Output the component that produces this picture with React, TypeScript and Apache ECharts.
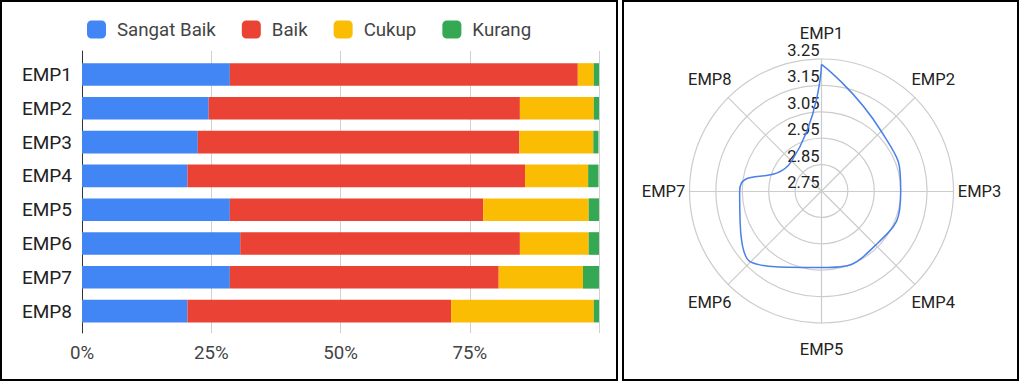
import React, { useEffect, useRef } from "react";
import * as echarts from "echarts";

const categories = ["EMP1", "EMP2", "EMP3", "EMP4", "EMP5", "EMP6", "EMP7", "EMP8"];
const seriesNames = ["Sangat Baik", "Baik", "Cukup", "Kurang"];
const sangatBaik = [28.6, 24.5, 22.4, 20.4, 28.6, 30.6, 28.6, 20.4];
const baik = [67.3, 60.2, 62.2, 65.3, 49.0, 54.1, 52.0, 51.0];
const cukup = [3.1, 14.3, 14.3, 12.2, 20.4, 13.3, 16.3, 27.6];
const kurang = [1.0, 1.0, 1.0, 2.0, 2.0, 2.0, 3.1, 1.0];
const colors = ["#4285F4", "#EA4335", "#FBBC04", "#34A853"];
const xTicks = [0, 25, 50, 75, 100];

const radarValues = [3.23, 3.07, 3.05, 3.04, 3.04, 3.13, 3.06, 2.91];
const radarMin = 2.75;
const radarMax = 3.25;

const FONT = "Roboto";

export default function App() {
  const ref = useRef<HTMLDivElement>(null);
  useEffect(() => {
    document.body.style.margin = "0";
    const chart = echarts.init(ref.current!, null, { renderer: "svg" });
    const values = [sangatBaik, baik, cukup, kurang];
    const n = categories.length;
    // radar goes counter-clockwise; reorder so labels run clockwise
    const radarOrder = [0, ...Array.from({ length: n - 1 }, (_, k) => n - 1 - k)];
    const indicators = radarOrder.map((idx, j) => {
      const ind: any = { name: categories[idx], min: radarMin, max: radarMax };
      if (j === 0) {
        ind.axisLabel = {
          show: true,
          fontSize: 16.5,
          fontFamily: FONT,
          color: "#222",
          verticalAlign: "bottom",
          margin: 2,
          formatter: (v: number) => Number(v).toFixed(2),
        };
      }
      return ind;
    });
    const linePoints = radarValues.map((v, i) => [v, i]);
    linePoints.push([radarValues[0], n]);

    chart.setOption({
      animation: false,
      legend: {
        data: seriesNames,
        left: 87,
        top: 20,
        padding: 0,
        itemWidth: 19,
        itemHeight: 18,
        itemGap: 26,
        icon: "roundRect",
        selectedMode: false,
        textStyle: { fontSize: 18.7, color: "#444", fontFamily: FONT, padding: [0, 0, 0, 6] },
      },
      grid: [
        { left: 82, top: 51, width: 517, height: 282 },
        { left: 82, top: 57.6, width: 517, height: 270.4 },
      ],
      xAxis: [
        {
          gridIndex: 0,
          type: "value",
          min: 0,
          max: 100,
          interval: 25,
          axisLine: { show: false },
          axisTick: { show: false },
          splitLine: { show: true, lineStyle: { color: "#d0d0d0", width: 1 } },
          axisLabel: {
            margin: 10,
            fontSize: 18.7,
            fontFamily: FONT,
            color: "#444",
            formatter: (v: number) => (v === xTicks[xTicks.length - 1] ? "" : v + "%"),
          },
        },
        {
          gridIndex: 1,
          type: "value",
          min: 0,
          max: 100,
          show: false,
        },
      ],
      yAxis: [
        {
          gridIndex: 0,
          type: "category",
          data: categories,
          inverse: true,
          axisLine: { show: true, lineStyle: { color: "#333", width: 1 } },
          axisTick: { show: false },
          axisLabel: { show: false },
          splitLine: { show: false },
        },
        {
          gridIndex: 1,
          type: "category",
          data: categories,
          inverse: true,
          axisLine: { show: false },
          axisTick: { show: false },
          axisLabel: { margin: 10, fontSize: 19, fontFamily: FONT, color: "#222" },
        },
      ],
      radar: {
        center: [821.5, 191],
        radius: 132,
        startAngle: 90,
        shape: "circle",
        splitNumber: 5,
        indicator: indicators,
        axisName: {
          color: "#222",
          fontSize: 16.5,
          fontFamily: FONT,
          align: "center",
          verticalAlign: "middle",
        },
        axisNameGap: 26,
        splitLine: { lineStyle: { color: "#cccccc", width: 1.2 } },
        splitArea: { show: false },
        axisLine: { lineStyle: { color: "#cccccc", width: 1.2 } },
        axisTick: { show: false },
        axisLabel: { show: false },
      },
      polar: { center: [821.5, 191], radius: 132 },
      angleAxis: {
        type: "value",
        min: 0,
        max: n,
        startAngle: 90,
        clockwise: true,
        axisLine: { show: false },
        axisTick: { show: false },
        axisLabel: { show: false },
        splitLine: { show: false },
        splitArea: { show: false },
      },
      radiusAxis: {
        type: "value",
        min: radarMin,
        max: radarMax,
        axisLine: { show: false },
        axisTick: { show: false },
        axisLabel: { show: false },
        splitLine: { show: false },
        splitArea: { show: false },
      },
      series: [
        ...seriesNames.map((name, k) => ({
          name,
          type: "bar",
          stack: "total",
          xAxisIndex: 1,
          yAxisIndex: 1,
          barCategoryGap: "33%",
          itemStyle: { color: colors[k] },
          data: values[k],
        })),
        {
          type: "line",
          coordinateSystem: "polar",
          data: linePoints,
          smooth: 0.55,
          symbol: "none",
          lineStyle: { color: "#4a80e8", width: 1.5 },
        },
      ],
      graphic: [
        {
          type: "rect",
          shape: { x: 1, y: 1, width: 616, height: 379 },
          style: { fill: "none", stroke: "#000", lineWidth: 2 },
        },
        {
          type: "rect",
          shape: { x: 623, y: 1, width: 395, height: 379 },
          style: { fill: "none", stroke: "#000", lineWidth: 2 },
        },
      ],
    });
    return () => chart.dispose();
  }, []);
  return <div ref={ref} style={{ width: 1019, height: 382 }} />;
}
